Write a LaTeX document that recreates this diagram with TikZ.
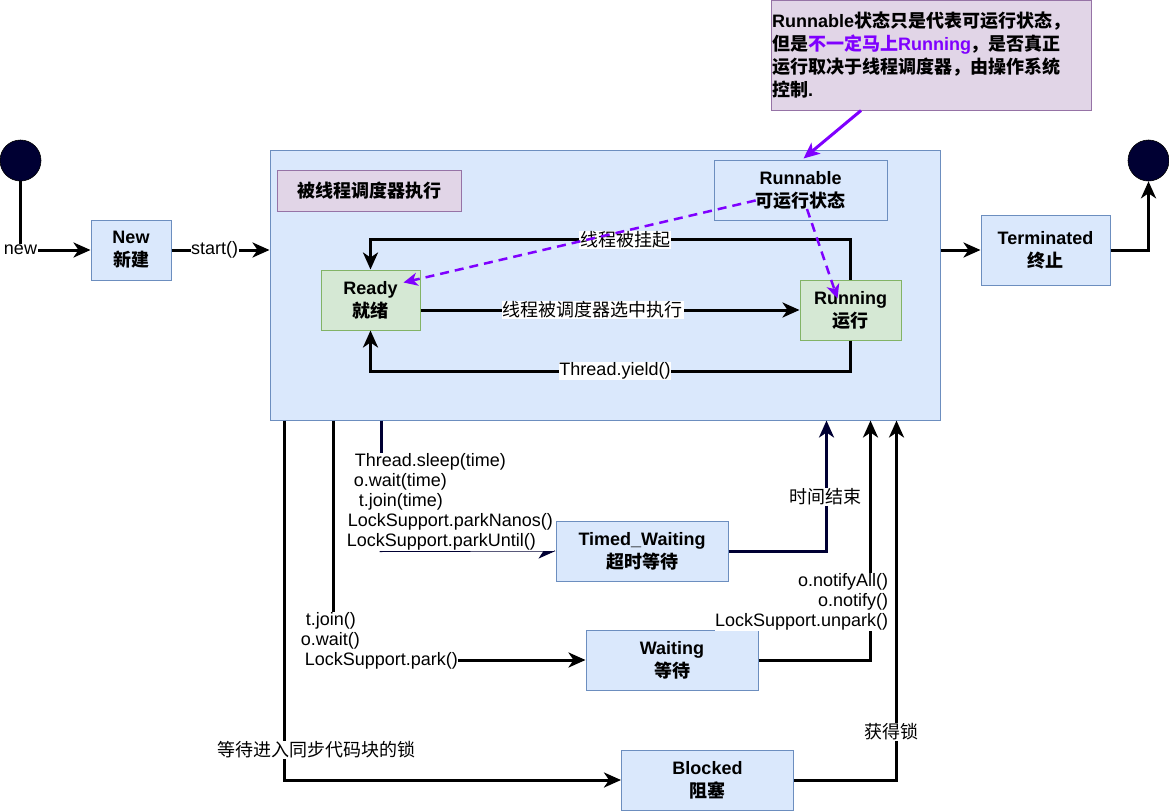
\documentclass[tikz,border=0pt]{standalone}
\usepackage{fontspec}
\setmainfont{Liberation Sans}
\newfontfamily\cjk{Noto Sans CJK SC}
\newcommand\zh[1]{{\cjk #1}}
\usetikzlibrary{arrows.meta}
\definecolor{bluefill}{HTML}{DAE8FC}
\definecolor{bluedraw}{HTML}{6C8EBF}
\definecolor{greenfill}{HTML}{D5E8D4}
\definecolor{greendraw}{HTML}{82B366}
\definecolor{purplefill}{HTML}{E1D5E7}
\definecolor{purpledraw}{HTML}{9673A6}
\definecolor{navyc}{HTML}{000033}
\definecolor{accent}{HTML}{7F00FF}
\begin{document}
\begin{tikzpicture}[x=1pt,y=-1pt,
  boxfont/.style={font=\fontsize{18}{23}\selectfont\bfseries},
  bluebox/.style={draw=bluedraw, fill=bluefill, line width=1pt, inner sep=0pt, align=center, boxfont},
  greenbox/.style={draw=greendraw, fill=greenfill, line width=1pt, inner sep=0pt, align=center, boxfont},
  purplebox/.style={draw=purpledraw, fill=purplefill, line width=1pt, inner sep=0pt, align=center, boxfont},
  dot/.style={circle, fill=navyc, draw=black, line width=0.6pt, minimum size=41pt, inner sep=0pt},
  lbl/.style={fill=white, inner sep=0.6pt, font=\fontsize{18}{20}\selectfont},
  bigtip/.style={-{Stealth[length=17pt,width=15pt,inset=5pt]}},
  conn/.style={draw=black, line width=3pt, bigtip},
  navyconn/.style={draw=navyc, line width=3pt, bigtip},
  purp/.style={draw=accent, line width=3pt, -{Stealth[length=16pt,width=14pt,inset=4pt]}},
  purpdash/.style={draw=accent, line width=2.5pt, dash pattern=on 9pt off 6pt, -{Stealth[length=14pt,width=13pt,inset=4pt]}}
]
\useasboundingbox (0,0) rectangle (1169,811);

% containers and states
\node[bluebox, minimum width=670pt, minimum height=270pt] (big) at (605,285) {};
\node[purplebox, minimum width=184pt, minimum height=41pt] (title) at (369,190.5) {\zh{被线程调度器执行}};
\node[bluebox, minimum width=173pt, minimum height=60pt] (runnable) at (800.5,190) {Runnable\\\zh{可运行状态}};
\node[greenbox, minimum width=99pt, minimum height=60pt] (ready) at (370.5,300) {Ready\\\zh{就绪}};
\node[greenbox, minimum width=101pt, minimum height=60pt] (running) at (850.5,310) {Running\\\zh{运行}};
\node[bluebox, minimum width=80pt, minimum height=60pt] (new) at (131,250) {New\\\zh{新建}};
\node[bluebox, minimum width=129pt, minimum height=70pt] (term) at (1045.5,250) {Terminated\\\zh{终止}};
\node[dot] (start) at (20.5,160.5) {};
\node[dot] (end) at (1148.5,160.5) {};
\node[bluebox, minimum width=172pt, minimum height=60pt] (waiting) at (672,660) {Waiting\\\zh{等待}};
\node[bluebox, minimum width=172pt, minimum height=60pt] (blocked) at (707.5,780) {Blocked\\\zh{阻塞}};
\node[draw=purpledraw, fill=purplefill, line width=1pt, text width=318pt, inner xsep=1pt, inner ysep=0pt,
      minimum height=110pt, align=left, boxfont] (note) at (931,55)
  {Runnable\zh{状态只是代表可运行状态，}\\
   \zh{但是}\textcolor{accent}{\zh{不一定马上}Running}\zh{，是否真正}\\
   \zh{运行取决于线程调度器，由操作系统}\\
   \zh{控制}.};

% outer flow
\draw[conn] (start.south) |- (new.west) node[lbl, pos=0.5] (lnew) {new};
\draw[conn] (new.east) -- (big.west |- new.east) node[lbl, pos=0.44] (lstart) {start()};
\draw[conn] (big.east |- term.west) -- (term.west);
\draw[conn] (term.east) -| (end.south);

% inner loop
\draw[conn] (ready.east |- running.west) -- (running.west)
  node[lbl, pos=0.455] (lsel) {\zh{线程被调度器选中执行}};
\draw[conn] (running.north) -- ++(0,-40) -| (ready.north);
\node[lbl] (lsusp) at (625,240) {\zh{线程被挂起}};
\draw[conn] (running.south) -- ++(0,31) -| (ready.south);
\node[lbl] (lyield) at (615,371) {Thread.yield()};

% note arrows
\draw[purp] ([xshift=-70pt]note.south) -- ([xshift=3pt,yshift=1pt]runnable.north);
\draw[purpdash, shorten <=46pt] (runnable.center) -- ([xshift=-17pt,yshift=-13pt]ready.north east);
\draw[purpdash, shorten <=20pt] (runnable.center) -- ([xshift=38pt,yshift=-19pt]running.north west);

% waiting
\draw[conn] ([xshift=64pt]big.south west) |- (waiting.west);
\node[lbl, anchor=west, align=left] (lwait) at (300,641)
  {\hspace*{5pt}t.join()\\o.wait()\\\hspace*{4pt}LockSupport.park()};
\draw[conn] (waiting.east) -| ([xshift=-70pt]big.south east);
\node[lbl, anchor=east, align=right] (lnotify) at (889,602)
  {o.notifyAll()\\o.notify()\\LockSupport.unpark()};

% blocked
\draw[conn] ([xshift=15pt]big.south west) |- (blocked.west);
\node[lbl] (lblockwait) at (316,750) {\zh{等待进入同步代码块的锁}};
\draw[conn] (blocked.east) -| ([xshift=-44pt]big.south east);
\node[lbl] (llock) at (891,732) {\zh{获得锁}};

% timed waiting (drawn after the notify label so it stays on top)
\node[bluebox, minimum width=172pt, minimum height=60pt] (timed) at (642,551) {Timed\_Waiting\\\zh{超时等待}};
\draw[draw=navyc, line width=3pt] ([xshift=112pt]big.south west) -- ++(0,131) coordinate (tcorner);
\draw[draw=navyc, line width=1pt, -{Stealth[length=17pt,width=15pt,inset=5pt]}] ([xshift=-2pt]tcorner) -- (timed.west);
\node[lbl, anchor=west, align=left] (ltimed) at (346,502)
  {\hspace*{8pt}Thread.sleep(time)\\\hspace*{7pt}o.wait(time)\\\hspace*{12pt}t.join(time)\\\hspace*{1pt}LockSupport.parkNanos()\\LockSupport.parkUntil()};
\draw[navyconn] (timed.east) -| ([xshift=-114pt]big.south east);
\node[lbl] (ltimeend) at (825,497) {\zh{时间结束}};
\end{tikzpicture}
\end{document}
